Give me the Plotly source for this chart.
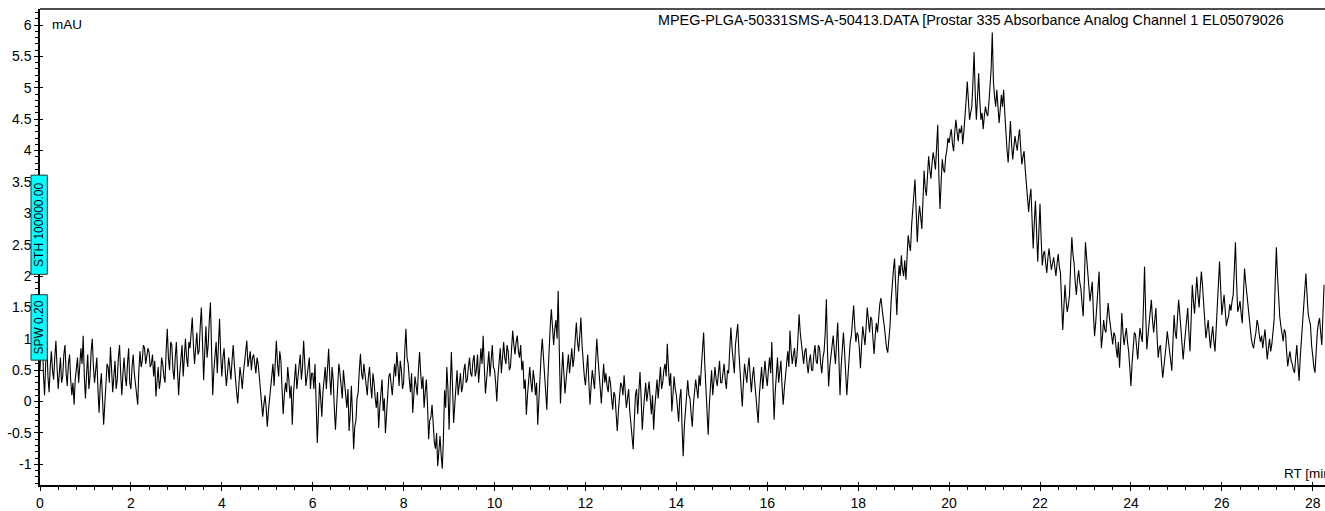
import plotly.graph_objects as go

# sampling step of the trace (min)
step = 0.025

# absorbance (mAU), one list per minute of retention time
m00 = [0.50,0.92,1.22,0.45,0.10,0.60,0.95,0.40,0.15,0.55,0.80,0.50,0.35,0.70,0.97,0.55,0.20,0.45,0.70,0.30,0.40,0.75,0.90,0.45,0.25,0.60,0.75,0.35,0.10,0.30,-0.05,0.35,0.60,0.70,0.30,0.55,0.85,0.60,1.05,0.40]
m01 = [0.05,0.45,0.75,0.20,0.40,0.80,1.00,0.55,0.30,0.50,0.70,0.20,-0.18,0.25,0.45,0.05,-0.37,-0.05,0.20,0.60,0.55,0.30,0.87,0.50,0.15,0.40,0.65,0.20,0.35,0.70,0.90,0.45,0.10,0.45,0.70,0.40,0.25,0.60,0.85,0.30]
m02 = [0.20,0.55,0.75,0.45,0.30,0.10,-0.05,0.50,0.80,0.55,0.65,0.90,0.85,0.60,0.70,0.85,0.78,0.55,0.60,0.75,0.40,0.65,0.08,0.30,0.55,0.20,0.35,0.70,0.60,0.40,0.30,0.80,1.16,0.70,0.50,0.95,0.90,0.50,0.35,0.70]
m03 = [0.95,0.50,0.10,0.45,0.70,0.90,0.40,0.75,1.00,0.70,0.55,0.95,0.85,1.10,1.34,0.90,0.60,0.85,1.10,0.75,0.80,1.20,1.50,0.95,0.34,0.80,1.20,0.70,0.90,1.30,1.58,0.80,0.10,0.50,0.75,0.95,0.45,0.90,1.32,0.75]
m04 = [0.40,0.70,0.85,0.50,0.25,0.45,0.70,0.55,0.35,0.65,0.90,0.60,0.30,0.15,-0.03,0.30,0.55,0.40,0.20,0.45,0.60,0.80,0.97,0.55,0.65,0.80,0.50,0.70,0.75,0.55,0.45,0.70,0.60,0.40,0.20,0.05,-0.24,-0.05,0.10,-0.10]
m05 = [-0.40,-0.15,0.05,0.30,0.45,0.60,0.25,0.70,0.97,0.60,0.40,0.80,0.65,0.20,-0.20,0.10,0.30,0.15,0.55,0.35,0.05,0.25,-0.37,0.10,0.45,0.60,0.20,0.40,0.60,0.75,0.35,0.55,0.97,0.60,0.25,0.40,0.55,0.70,0.20,0.45]
m06 = [0.45,0.20,0.60,0.10,-0.66,-0.20,0.30,0.05,-0.24,0.15,0.40,0.55,0.20,0.50,0.84,0.40,0.10,0.55,0.35,-0.10,-0.45,-0.10,0.20,0.60,0.45,0.25,0.05,0.50,0.30,0.15,-0.10,0.20,-0.47,-0.20,0.25,-0.20,-0.76,-0.40,-0.30,0.05]
m07 = [0.15,0.50,0.76,0.45,0.35,0.60,0.40,0.20,0.10,0.40,0.55,0.25,0.05,0.45,0.30,0.05,-0.10,0.15,-0.42,-0.10,0.20,0.35,-0.15,0.05,-0.50,-0.20,0.15,0.40,0.45,0.25,0.10,0.35,0.60,0.40,0.79,0.55,0.25,0.65,0.50,0.20]
m08 = [0.30,0.80,1.16,0.70,0.60,0.35,0.15,0.45,-0.18,0.10,0.40,0.25,0.10,0.50,0.79,0.45,0.20,0.40,-0.10,0.15,0.35,-0.05,-0.60,-0.30,-0.25,-0.05,-0.40,-0.65,-0.75,-0.50,-1.03,-0.80,-0.55,-0.85,-1.07,-0.60,0.18,-0.10,0.55,0.20]
m09 = [-0.45,0.20,0.79,0.25,-0.34,-0.05,0.30,0.50,0.10,0.25,0.45,0.15,0.25,0.50,0.60,0.30,0.35,0.55,0.70,0.45,0.40,0.65,0.74,0.40,0.50,0.75,0.30,0.55,0.85,0.60,1.05,0.55,0.13,0.35,0.60,0.80,0.40,0.65,0.90,0.55]
m10 = [0.50,0.30,0.00,0.40,0.70,0.85,0.45,0.65,0.95,0.70,0.60,0.90,0.80,0.50,0.55,0.85,1.13,0.90,0.75,0.95,1.05,0.80,0.70,0.90,0.50,0.65,0.20,0.35,-0.21,0.10,0.40,0.55,0.30,0.15,0.50,0.35,0.10,0.30,-0.37,0.05]
m11 = [0.40,0.75,1.00,0.70,0.55,0.20,-0.13,0.40,0.90,1.20,1.47,1.05,0.90,1.15,1.30,1.00,1.76,0.80,-0.03,0.40,0.79,0.45,0.13,0.35,0.60,0.75,0.45,0.65,0.85,0.55,0.70,1.00,1.26,0.95,0.80,1.05,1.34,0.90,0.60,0.40]
m12 = [0.26,0.55,0.75,0.30,-0.05,0.25,0.50,0.35,0.20,0.65,1.00,0.70,0.45,0.15,-0.03,0.30,0.60,0.30,0.45,0.25,0.15,0.40,0.30,0.05,-0.13,0.15,0.10,-0.20,-0.47,-0.15,0.05,0.30,0.25,0.10,0.42,0.15,-0.10,0.05,0.20,-0.15]
m13 = [-0.34,-0.55,-0.76,-0.30,0.10,0.20,-0.20,0.15,0.47,0.05,-0.45,-0.15,0.15,0.30,0.00,0.20,0.32,0.05,-0.20,0.10,-0.45,-0.10,0.20,0.35,0.05,0.30,0.55,0.20,0.30,0.50,0.60,0.40,0.92,0.55,0.25,0.45,-0.16,0.10,0.40,0.20]
m14 = [0.10,-0.10,-0.32,0.05,0.20,-0.40,-0.87,-0.40,-0.10,0.15,0.34,0.10,0.05,-0.20,-0.40,-0.05,0.15,0.35,0.20,0.05,0.42,0.25,0.55,0.80,1.10,0.60,0.20,-0.15,-0.53,-0.05,0.35,0.50,0.10,0.30,0.55,0.35,0.25,0.45,0.65,0.30]
m15 = [0.30,0.45,0.60,0.35,0.20,0.50,0.45,0.85,1.18,0.85,0.66,0.45,0.90,1.05,1.24,0.80,0.50,0.20,-0.08,0.30,0.60,0.45,0.30,0.55,0.70,0.40,0.15,0.40,0.55,0.30,0.05,-0.10,-0.34,0.10,0.40,0.55,0.20,0.45,0.65,0.40]
m16 = [0.25,0.50,0.70,0.45,0.95,0.30,-0.29,0.15,0.50,0.70,0.30,0.50,0.65,0.25,-0.05,0.20,0.40,0.65,0.80,0.55,1.13,0.80,0.60,0.75,0.85,0.55,0.70,1.00,1.39,1.10,0.95,0.70,0.60,0.80,0.85,0.60,0.45,0.65,0.75,0.50]
m17 = [0.50,0.75,0.90,0.65,0.60,0.90,0.85,0.60,0.45,0.70,0.80,1.10,1.63,0.80,0.24,0.55,0.75,0.95,1.05,0.80,0.60,0.95,1.26,0.70,0.10,0.55,0.95,1.10,0.80,0.45,0.10,0.40,0.70,0.95,1.05,1.25,1.53,1.20,0.95,1.10]
m18 = [1.05,0.85,0.53,0.90,1.20,1.05,0.90,1.20,1.50,1.30,1.10,1.35,1.30,1.00,0.76,1.05,1.25,1.10,1.40,1.55,1.65,1.45,1.33,1.20,1.01,0.85,0.78,1.00,1.20,1.60,1.96,2.10,2.28,1.80,1.38,1.85,2.17,2.00,2.33,2.10]
m19 = [2.00,2.25,1.94,2.30,2.65,2.50,2.40,2.80,3.12,3.30,3.54,3.00,2.54,2.90,3.12,2.95,2.75,3.20,3.68,3.40,3.28,3.60,3.91,3.70,3.55,3.80,3.97,3.85,3.70,4.05,4.41,3.60,3.07,3.50,3.86,3.70,3.65,3.90,4.00,4.20]
m20 = [4.12,4.25,4.34,4.10,3.99,4.30,4.49,4.30,4.15,4.35,4.28,4.40,4.10,4.30,4.49,4.80,5.10,4.70,4.49,4.60,4.70,5.10,5.57,4.90,4.49,4.85,5.23,4.80,4.49,4.60,4.34,4.55,4.70,4.60,4.55,4.75,4.99,5.30,5.88,5.10]
m21 = [4.86,4.70,4.97,4.75,4.44,4.65,4.89,4.70,4.97,4.60,4.18,4.00,3.81,4.15,4.47,4.10,3.86,4.05,4.23,4.10,4.00,4.20,4.34,4.05,3.78,3.90,3.99,3.70,3.49,3.30,3.02,3.25,3.39,2.90,2.44,2.85,3.20,2.70,2.23,2.70]
m22 = [3.15,2.60,2.17,2.35,2.40,2.20,2.05,2.30,2.44,2.25,2.10,2.20,2.30,2.15,2.00,2.20,2.35,2.15,2.05,1.60,1.14,1.50,1.86,1.60,1.43,1.55,1.70,2.20,2.62,2.35,2.20,1.90,1.70,1.95,2.09,1.90,1.80,1.55,1.36,1.90]
m23 = [2.54,2.30,2.10,1.80,1.60,1.75,1.91,1.40,1.04,1.25,1.50,1.80,2.07,1.40,0.85,1.05,1.30,1.15,1.10,1.35,1.57,1.35,1.20,1.00,0.91,1.10,1.05,0.85,0.70,0.95,0.54,0.95,1.41,1.10,0.90,1.05,1.17,0.95,0.80,0.55]
m24 = [0.25,0.60,0.90,1.10,1.07,0.85,0.67,0.95,1.17,1.05,0.95,1.50,2.15,1.40,0.83,1.05,1.25,1.40,1.62,1.30,1.10,1.30,1.49,1.05,0.70,0.85,0.90,0.60,0.38,0.55,0.70,0.90,1.12,0.95,0.80,0.60,0.49,0.95,1.38,1.10]
m25 = [1.00,1.35,1.62,1.40,1.20,0.90,0.67,0.90,1.10,1.30,1.49,1.10,0.80,1.30,1.86,1.60,1.40,1.70,1.99,1.70,1.50,1.80,2.07,1.85,1.60,1.25,1.01,1.15,1.30,1.05,0.85,1.05,1.20,0.95,0.80,1.15,1.50,1.85,2.23,1.80]
m26 = [1.38,1.55,1.70,1.45,1.20,1.30,1.36,1.55,1.45,1.60,1.70,2.10,2.54,1.90,1.43,1.50,1.60,1.40,1.25,1.70,2.12,1.90,1.70,1.50,1.33,1.15,1.00,0.90,0.85,1.00,1.10,1.30,1.22,1.05,0.95,1.05,0.85,1.00,1.15,0.90]
m27 = [0.67,0.85,1.00,0.80,0.91,1.10,1.30,1.90,2.46,2.00,1.59,1.35,1.20,1.05,0.96,1.15,1.10,0.80,0.56,0.70,0.80,0.65,0.60,0.50,0.46,0.70,0.90,0.60,0.33,0.70,1.00,1.25,1.46,1.80,2.04,1.70,1.40,1.30,1.22,0.90]
m28 = [0.64,0.55,0.46,0.80,1.10,1.25,1.33,1.10,0.90,1.40,1.86]

minutes = [m00, m01, m02, m03, m04, m05, m06, m07, m08, m09, m10, m11, m12, m13,
           m14, m15, m16, m17, m18, m19, m20, m21, m22, m23, m24, m25, m26, m27, m28]
mau = [v for seg in minutes for v in seg]
rt = [round(i * step, 4) for i in range(len(mau))]

x_ticks = list(range(0, 29, 2))
x_labels = [str(v) for v in x_ticks]
y_ticks = [-1, -0.5, 0, 0.5, 1, 1.5, 2, 2.5, 3, 3.5, 4, 4.5, 5, 5.5, 6]
y_labels = ["-1", "-0.5", "0", "0.5", "1", "1.5", "2", "2.5", "3", "3.5", "4", "4.5", "5", "5.5", "6"]

header = "MPEG-PLGA-50331SMS-A-50413.DATA [Prostar 335 Absorbance Analog Channel 1 EL05079026"

X_RANGE = [0, 28.27]
Y_RANGE = [-1.33, 6.256]
FONT = "Liberation Sans, Arial, sans-serif"

fig = go.Figure()
fig.add_trace(go.Scatter(x=rt, y=mau, mode="lines",
                         line=dict(color="black", width=1.1), showlegend=False,
                         hoverinfo="skip"))
# invisible helper trace so the overlay axes (inner half of crossing ticks) are drawn
fig.add_trace(go.Scatter(x=[rt[0]], y=[mau[0]], xaxis="x2", yaxis="y2", mode="markers",
                         marker=dict(opacity=0), showlegend=False, hoverinfo="skip"))

fig.update_layout(
    width=1325, height=511,
    margin=dict(l=40, r=0, t=9, b=22),
    paper_bgcolor="white", plot_bgcolor="white",
    font=dict(family=FONT, size=14, color="black"),
    xaxis=dict(range=X_RANGE, showgrid=False, zeroline=False,
               showline=True, linecolor="black", linewidth=1.5,
               tickmode="array", tickvals=x_ticks, ticktext=x_labels,
               ticks="outside", ticklen=4, tickcolor="black", tickwidth=1,
               minor=dict(dtick=0.4, tick0=0, ticks="outside", ticklen=3,
                          tickcolor="black", tickwidth=1),
               tickfont=dict(size=14)),
    yaxis=dict(range=Y_RANGE, showgrid=False, zeroline=False,
               showline=True, linecolor="black", linewidth=1.5,
               tickmode="array", tickvals=y_ticks, ticktext=y_labels,
               ticks="outside", ticklen=4, tickcolor="black", tickwidth=1,
               minor=dict(dtick=0.1, tick0=0, ticks="outside", ticklen=3,
                          tickcolor="black", tickwidth=1),
               tickfont=dict(size=14)),
    xaxis2=dict(range=X_RANGE, overlaying="x", anchor="y2", side="bottom",
                showgrid=False, zeroline=False, showline=False,
                tickmode="array", tickvals=x_ticks, ticks="inside", ticklen=3,
                tickcolor="black", showticklabels=False),
    yaxis2=dict(range=Y_RANGE, overlaying="y", anchor="x2", side="left",
                showgrid=False, zeroline=False, showline=False,
                tickmode="array", tickvals=y_ticks, ticks="inside", ticklen=3,
                tickcolor="black", showticklabels=False),
)

# top frame line
fig.add_shape(type="line", xref="paper", yref="paper", x0=0, x1=1, y0=1, y1=1,
              line=dict(color="#505050", width=2))

# cyan marker boxes on the y axis
box_x0, box_x1 = -0.0070, 0.0057
sth_y0, sth_y1 = 0.4426, 0.651
spw_y0, spw_y1 = 0.2623, 0.3998
fig.add_shape(type="rect", xref="paper", yref="paper", x0=box_x0, x1=box_x1,
              y0=sth_y0, y1=sth_y1, fillcolor="#00FFFF",
              line=dict(color="#333333", width=1))
fig.add_shape(type="rect", xref="paper", yref="paper", x0=box_x0, x1=box_x1,
              y0=spw_y0, y1=spw_y1, fillcolor="#00FFFF",
              line=dict(color="#333333", width=1))
fig.add_annotation(text="STH 100000.00", xref="paper", yref="paper",
                   x=(box_x0 + box_x1) / 2, y=(sth_y0 + sth_y1) / 2, textangle=-90,
                   xanchor="center", yanchor="middle",
                   showarrow=False, font=dict(size=12, color="black"))
fig.add_annotation(text="SPW 0.20", xref="paper", yref="paper",
                   x=(box_x0 + box_x1) / 2, y=(spw_y0 + spw_y1) / 2, textangle=-90,
                   xanchor="center", yanchor="middle",
                   showarrow=False, font=dict(size=12, color="black"))

fig.add_annotation(text="mAU", xref="paper", yref="paper", x=0.0075, y=0.968,
                   xanchor="left", yanchor="middle", showarrow=False,
                   font=dict(size=13.5, color="black"))
fig.add_annotation(text=header, xref="paper", yref="paper", x=0.9697, y=0.977,
                   xanchor="right", yanchor="middle", showarrow=False,
                   font=dict(size=14.4, color="black"))
fig.add_annotation(text="RT [min]", xref="paper", yref="paper", x=0.9665, y=0.0245,
                   xanchor="left", yanchor="middle", showarrow=False,
                   font=dict(size=13.5, color="black"))

fig.write_html("out.html", config={"displayModeBar": False},
               post_script="document.body.style.margin='0';")
